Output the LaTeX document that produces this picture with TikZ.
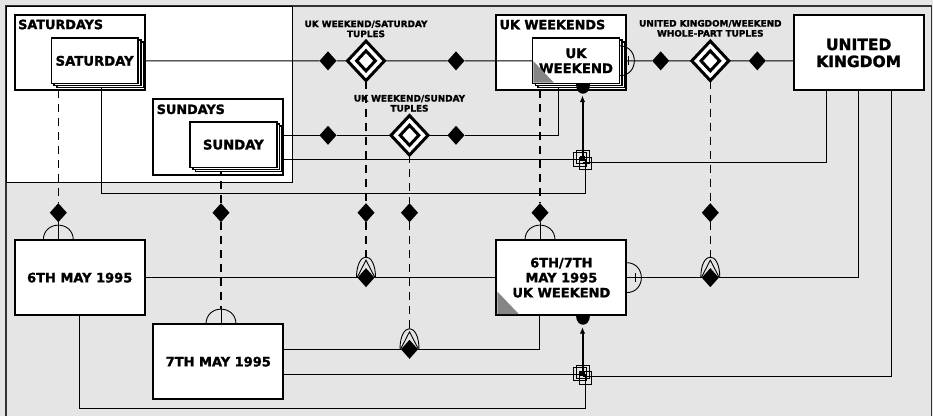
\documentclass[tikz,border=0pt]{standalone}
\usepackage{fontspec}
\setmainfont{DejaVu Sans}[BoldFeatures={FakeBold=1.6}]
\usetikzlibrary{shapes.geometric,calc,arrows.meta,shadows}
\definecolor{canvas}{HTML}{E5E5E5}
\definecolor{corner}{HTML}{858585}
\pgfdeclarelayer{base}
\pgfdeclarelayer{links}
\pgfsetlayers{base,links,main}

% half-ellipse with crow's foot sitting on a row line
\newcommand{\crowsfoot}[1]{%
  \draw[fineline] ($(#1)+(-9.5,0)$) .. controls ($(#1)+(-9.5,-27.5)$) and ($(#1)+(9.5,-27.5)$) .. ($(#1)+(9.5,0)$);
  \draw[fineline] ($(#1)+(-9,0)$) -- ($(#1)+(0,-17.5)$) -- ($(#1)+(9,0)$);}
% semicircle over a child box
\newcommand{\archover}[1]{%
  \draw[fineline] ($(#1)+(-15,0)$) .. controls ($(#1)+(-15,-20)$) and ($(#1)+(15,-20)$) .. ($(#1)+(15,0)$);}
% semicircle and bar on the right side of a box
\newcommand{\sidearc}[1]{%
  \draw[fineline] ($(#1)+(0,-15)$) .. controls ($(#1)+(20,-15)$) and ($(#1)+(20,15)$) .. ($(#1)+(0,15)$);
  \draw[line width=1.6pt] ($(#1)+(9,-4.5)$) -- ($(#1)+(9,4.5)$);}
% filled half disc below a box
\newcommand{\footdisc}[1]{%
  \fill ($(#1)+(-7,0)$) .. controls ($(#1)+(-7,13)$) and ($(#1)+(7,13)$) .. ($(#1)+(7,0)$) -- cycle;}
% stacked squares at a junction
\newcommand{\junction}[1]{%
  \draw[fineline] ($(#1)+(-9.3,-6.6)$) rectangle ++(13.4,13.4);
  \draw[fineline] ($(#1)+(-6.3,-9)$) rectangle ++(13.2,13.2);
  \draw[fineline] ($(#1)+(-3.3,-2.3)$) rectangle ++(12.6,12.6);
  \fill ($(#1)+(-2.5,-3)$) rectangle ++(5,5);}

\begin{document}
\begin{tikzpicture}[x=1pt,y=-1pt,
  conn/.style={line width=1pt,draw=black},
  dconn/.style={line width=1.1pt,draw=black,dash pattern=on 8pt off 6pt},
  fineline/.style={line width=0.9pt,draw=black},
  frameline/.style={line width=1.5pt,draw=black!80},
  entity/.style={draw,line width=2pt,fill=white,minimum width=130pt,minimum height=75pt,
    inner sep=0pt,outer sep=0pt,align=center,font=\bfseries\fontsize{13}{15}\selectfont},
  member/.style={draw,line width=1.6pt,fill=white,minimum width=86.7pt,minimum height=45.5pt,
    inner sep=0pt,outer sep=0pt,align=center,font=\bfseries\fontsize{13.2}{15}\selectfont,
    copy shadow={shadow xshift=5.4pt,shadow yshift=-4pt},
    copy shadow={shadow xshift=2.7pt,shadow yshift=-2pt}},
  settitle/.style={anchor=base west,inner sep=0pt,font=\bfseries\fontsize{12.8}{14}\selectfont},
  rellabel/.style={align=center,inner sep=0pt,font=\bfseries\fontsize{8.9}{10}\selectfont},
  pick/.style={diamond,fill=black,inner sep=0pt,outer sep=0pt,minimum width=17pt,minimum height=19pt},
  reldia/.style={diamond,draw,line width=3pt,fill=white,inner sep=0pt,outer sep=0pt,
    minimum width=37pt,minimum height=39.5pt},
  relcore/.style={diamond,draw,line width=3pt,fill=white,inner sep=0pt,outer sep=0pt,
    minimum width=18.6pt,minimum height=20pt},
  lift/.style={line width=2pt,-{Latex[length=6.5pt,width=5.5pt]}},
]

\begin{pgfonlayer}{base}
  \fill[canvas] (0,0) rectangle (933,416);
  \draw[frameline] (6,416) -- (6,6) -- (931.5,6) -- (931.5,416);
  \draw[fineline,fill=white] (6,6) rectangle (292.7,182.7);
  % set boxes
  \node[entity] (sats) at (79.7,52.65) {};
  \node[entity] (suns) at (218.3,137) {};
  \node[entity] (ukws) at (561.35,52.5) {};
\end{pgfonlayer}

% set titles
\node[settitle] (satsT) at ($(sats.north west)+(3.3,14)$) {SATURDAYS};
\node[settitle] (sunsT) at ($(suns.north west)+(3.3,14.5)$) {SUNDAYS};
\node[settitle] (ukwsT) at ($(ukws.north west)+(3.1,14.3)$) {UK WEEKENDS};

% entities
\node[entity,font=\bfseries\fontsize{15.5}{17}\selectfont] (uk) at (858.65,53) {UNITED\\KINGDOM};
\node[entity] (may6) at (79.7,277.65) {6TH MAY 1995};
\node[entity] (may7) at (218.3,361.65) {7TH MAY 1995};
\node[entity] (wk) at (561.35,277.65) {6TH/7TH\\MAY 1995\\UK WEEKEND};

% set members
\node[member] (sat) at (94.65,60.85) {SATURDAY};
\node[member] (sun) at (233.35,144.65) {SUNDAY};
\node[member] (ukw) at (576,60.8) {UK\\WEEKEND};

% corner marks
\fill[corner] ($(ukw.south west)+(0.8,-0.8)$) -- ++(0,-21.5) -- ++(20.5,21.5) -- cycle;
\fill[corner] ($(wk.south west)+(1,-1)$) -- ++(0,-22.5) -- ++(21.5,22.5) -- cycle;

% junction points
\coordinate (jtop) at (582.5,159.3);
\coordinate (jbot) at (582.5,374);

% tuple relations
\node[reldia] (r1) at (366,60.85) {};
\node[relcore] (r1c) at (r1) {};
\node[reldia] (r2) at (409.5,135.3) {};
\node[relcore] (r2c) at (r2) {};
\node[reldia] (r3) at (710.3,60.85) {};
\node[relcore] (r3c) at (r3) {};
\node[rellabel] (r1L) at ($(r1)+(0,-32)$) {UK WEEKEND/SATURDAY\\TUPLES};
\node[rellabel] (r2L) at ($(r2)+(0,-32)$) {UK WEEKEND/SUNDAY\\TUPLES};
\node[rellabel] (r3L) at ($(r3)+(0,-32.5)$) {UNITED KINGDOM/WEEKEND\\WHOLE-PART TUPLES};

% role markers on the relation rows
\node[pick] (s1) at (328,60.85) {};
\node[pick] (s2) at (456,60.85) {};
\node[pick] (s3) at (328,135.3) {};
\node[pick] (s4) at (456,135.3) {};
\node[pick] (s5) at (660.7,60.85) {};
\node[pick] (s6) at (757.3,60.85) {};

% classification markers
\node[pick] (v1) at (58.3,212.7) {};
\node[pick] (v2) at (221,212.7) {};
\node[pick] (v3) at (366,212.7) {};
\node[pick] (v4) at (409.5,212.7) {};
\node[pick] (v5) at (540,212.7) {};
\node[pick] (v6) at (710.3,212.7) {};

% instance tuples
\crowsfoot{366,277.65}
\crowsfoot{409.5,349.3}
\crowsfoot{710.3,277.65}
\node[pick] (c1) at (366,277.65) {};
\node[pick] (c2) at (409.5,349.3) {};
\node[pick] (c3) at (710.3,277.65) {};

% arches over instances
\archover{may6.north -| v1}
\archover{may7.north -| v2}
\archover{wk.north -| v5}

% side arcs and bars
\sidearc{ukw.east}
\sidearc{wk.east}

% identifier discs and arrows
\footdisc{ukw.south -| jtop}
\footdisc{wk.south -| jbot}
\draw[lift] (jtop) -- ($(ukw.south -| jtop)+(0,12)$);
\draw[lift] (jbot) -- ($(wk.south -| jbot)+(0,12)$);
\junction{jtop}
\junction{jbot}

\begin{pgfonlayer}{links}
  % relation rows
  \draw[conn] (sat.east) -- (s1) -- (r1) -- (s2) -- (ukw.west);
  \draw[conn] (sun.east |- s3) -- (s3) -- (r2) -- (s4) -| ([xshift=-17.3]ukw.south);
  \draw[conn] (ukw.east) -- (s5) -- (r3) -- (s6) -- (s6 -| uk.west);
  \draw[conn] (may6.east) -- (c1) -- (wk.west);
  \draw[conn] (may7.east |- c2) -- (c2) -| ([xshift=-22]wk.south);
  \draw[conn] (uk.south) |- (c3) -- (wk.east);
  % paths into the junctions
  \draw[conn] (sun.east |- jtop) -- (jtop);
  \draw[conn] ([xshift=-32]uk.south) |- ($(jtop)+(0,3)$);
  \draw[conn] ([xshift=6.35]sat.south) |- ($(jtop)+(3.2,34)$) -- ($(jtop)+(3.2,0)$);
  \draw[conn] (may7.east |- jbot) -- (jbot);
  \draw[conn] ([xshift=33]uk.south) |- ($(jbot)+(0,2.7)$);
  \draw[conn] (may6.south) |- ($(jbot)+(3.2,34.3)$) -- ($(jbot)+(3.2,0)$);
  % classification lines
  \draw[dconn] (v1 |- sats.south) -- (v1);
  \draw[conn] (v1) -- (may6.north -| v1);
  \draw[dconn] (v2 |- sun.south) -- (v2);
  \draw[dconn] (v2) -- ($(may7.north -| v2)+(0,-15)$);
  \draw[conn] ($(may7.north -| v2)+(0,-15)$) -- (may7.north -| v2);
  \draw[dconn] (r1) -- (v3);
  \draw[dconn] (v3) -- ($(c1)+(0,-20)$);
  \draw[dconn] (r2) -- (v4);
  \draw[dconn] (v4) -- ($(c2)+(0,-20)$);
  \draw[dconn] (v5 |- ukws.south) -- (v5);
  \draw[conn] (v5) -- (wk.north -| v5);
  \draw[dconn] (r3) -- (v6);
  \draw[dconn] (v6) -- ($(c3)+(0,-20)$);
\end{pgfonlayer}

\useasboundingbox (0,0) rectangle (933,416);
\end{tikzpicture}
\end{document}
